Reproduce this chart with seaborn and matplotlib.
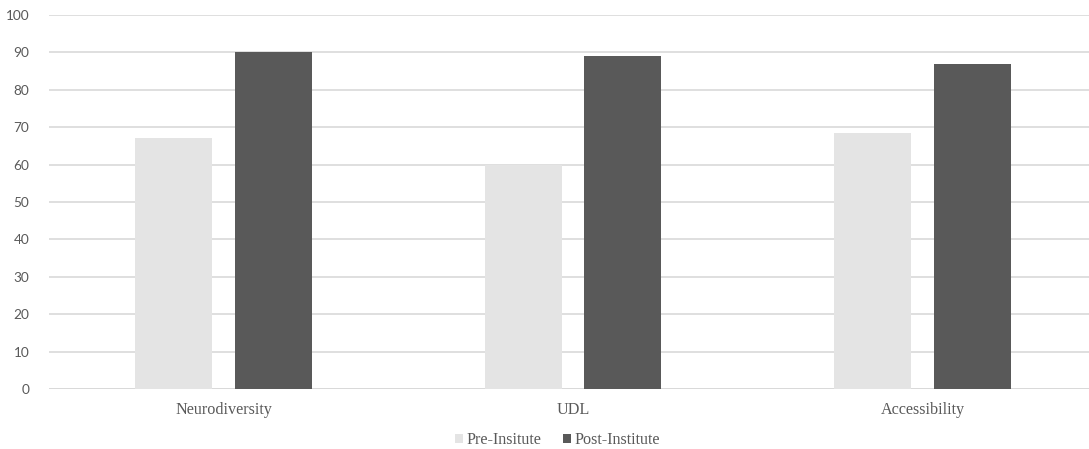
import matplotlib
matplotlib.use("Agg")
import matplotlib.pyplot as plt
import seaborn as sns
import pandas as pd
from matplotlib.patches import Patch

# Survey topics and mean scores before / after the institute
categories = ["Neurodiversity", "UDL", "Accessibility"]
pre_scores = [67.2, 60.0, 68.5]
post_scores = [90.0, 89.0, 86.8]
series_names = ["Pre-Insitute", "Post-Institute"]
y_ticks = [0, 10, 20, 30, 40, 50, 60, 70, 80, 90, 100]

colors = {"Pre-Insitute": "#E4E4E4", "Post-Institute": "#595959"}

df = pd.DataFrame({
    "topic": categories * 2,
    "score": pre_scores + post_scores,
    "phase": [series_names[0]] * len(categories) + [series_names[1]] * len(categories),
})

sns.set_theme(style="white")
plt.rcParams["font.family"] = ["Lato", "DejaVu Sans"]

fig = plt.figure(figsize=(10.89, 4.49), dpi=100)
# plot area runs slightly past the right edge of the canvas
ax = fig.add_axes([0.0448, 0.133, 0.9628, 0.834])

sns.barplot(
    data=df, x="topic", y="score", hue="phase",
    order=categories, hue_order=series_names, palette=colors,
    width=0.57, gap=0.226, saturation=1.0, errorbar=None,
    edgecolor="none", linewidth=0, ax=ax, zorder=3,
)

ax.set_ylim(0, 100)
ax.set_xlim(-0.5, len(categories) - 0.5)
ax.set_yticks(y_ticks)
ax.yaxis.grid(True, color="#D9D9D9", linewidth=1.2, zorder=0)
ax.set_axisbelow(True)
for side in ["top", "right", "left", "bottom"]:
    ax.spines[side].set_visible(False)
ax.axhline(0, color="#D9D9D9", linewidth=1.4, zorder=1)

ax.set_xlabel("")
ax.set_ylabel("")
ax.tick_params(axis="y", length=0, pad=14, labelsize=9.8, labelcolor="#595959")
ax.tick_params(axis="x", length=0, pad=9, labelsize=11.6, labelcolor="#595959")
for lbl in ax.get_xticklabels():
    lbl.set_fontfamily(["Liberation Serif", "DejaVu Serif"])

ax.get_legend().remove()
handles = [Patch(facecolor=colors[n], edgecolor="none") for n in series_names]
fig.legend(
    handles, series_names, loc="center", bbox_to_anchor=(0.512, 0.02),
    ncol=2, frameon=False, handlelength=0.5, handleheight=0.5,
    handletextpad=0.25, columnspacing=1.3,
    prop={"family": ["Liberation Serif", "DejaVu Serif"], "size": 11.6},
    labelcolor="#595959",
)

fig.savefig("out.png", dpi=100, facecolor="white")
